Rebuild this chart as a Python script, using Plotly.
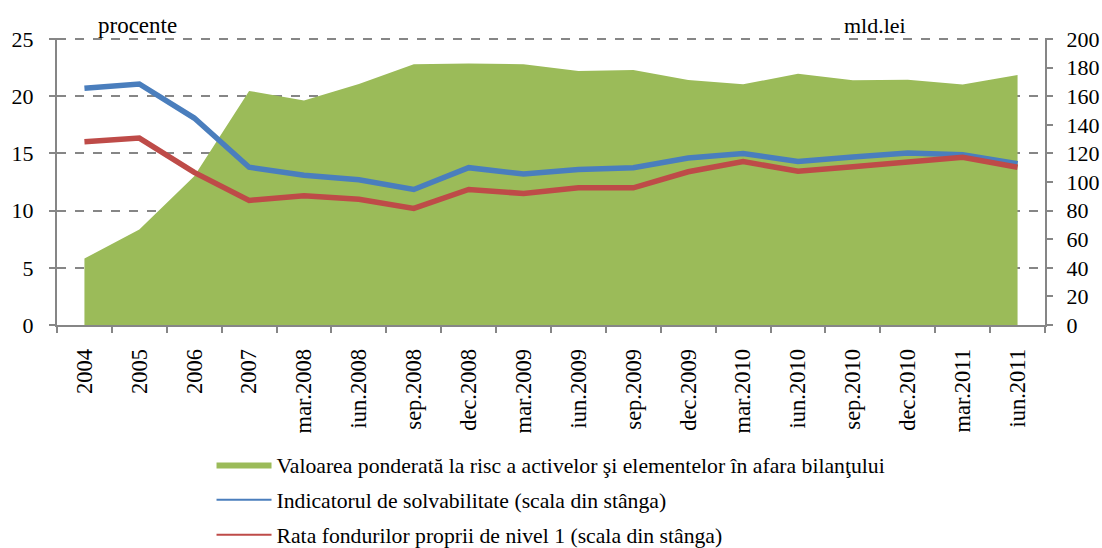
import plotly.graph_objects as go

categories = ["2004", "2005", "2006", "2007", "mar.2008", "iun.2008", "sep.2008", "dec.2008",
              "mar.2009", "iun.2009", "sep.2009", "dec.2009", "mar.2010", "iun.2010", "sep.2010",
              "dec.2010", "mar.2011", "iun.2011"]

risk_weighted_assets = [46.5, 66.8, 104, 163.8, 157, 168.6, 182.5, 183, 182.5, 177.7, 178.4,
                        171.4, 168.4, 175.8, 171.2, 171.6, 168.2, 174.9]
solvency_ratio = [20.7, 21.08, 18.1, 13.8, 13.1, 12.7, 11.85, 13.76, 13.2, 13.6, 13.76,
                  14.6, 15.0, 14.3, 14.7, 15.04, 14.9, 14.1]
tier1_ratio = [16.03, 16.35, 13.35, 10.9, 11.3, 11.0, 10.2, 11.85, 11.5, 12.0, 12.0,
               13.4, 14.3, 13.45, 13.85, 14.3, 14.66, 13.8]

names = ["Valoarea ponderată la risc a activelor şi elementelor în afara bilanţului",
         "Indicatorul de solvabilitate (scala din stânga)",
         "Rata fondurilor proprii de nivel 1 (scala din stânga)"]

left_range = [0, 25]
right_range = [0, 200]

GREEN = "#9BBB59"
BLUE = "#4A7EBD"
RED = "#BE4B48"
GREY = "#868686"
FONT = "Liberation Serif"
PAD = 1.004  # tiny headroom so the top gridline is drawn

fig = go.Figure()
# area on the primary axis (gridlines live here, below the area)
fig.add_trace(go.Scatter(x=categories, y=risk_weighted_assets, yaxis="y", name=names[0],
                         mode="lines", line=dict(width=0, color=GREEN), fill="tozeroy",
                         fillcolor=GREEN, legendgroup="a"))
# lines on the overlaying left axis so they are drawn above the area
fig.add_trace(go.Scatter(x=categories, y=solvency_ratio, yaxis="y2", name=names[1],
                         mode="lines", line=dict(width=5.5, color=BLUE), showlegend=False))
fig.add_trace(go.Scatter(x=categories, y=tier1_ratio, yaxis="y2", name=names[2],
                         mode="lines", line=dict(width=5.5, color=RED), showlegend=False))
# legend entries with thin lines, as in the reference
fig.add_trace(go.Scatter(x=[None], y=[None], yaxis="y2", name=names[1], mode="lines",
                         line=dict(width=2, color=BLUE), legendgroup="b"))
fig.add_trace(go.Scatter(x=[None], y=[None], yaxis="y2", name=names[2], mode="lines",
                         line=dict(width=2, color=RED), legendgroup="c"))
# right-hand labelled axis
fig.add_trace(go.Scatter(x=[None], y=[None], yaxis="y3", showlegend=False, hoverinfo="skip"))

fig.update_layout(
    width=1102, height=548,
    margin=dict(l=57, r=57, t=38, b=223, autoexpand=False),
    paper_bgcolor="white", plot_bgcolor="white",
    font=dict(family=FONT, size=22, color="black"),
    showlegend=True,
    legend=dict(x=0.1564, y=-0.414, xanchor="left", yanchor="top", orientation="v",
                font=dict(family=FONT, size=21.7, color="black"), tracegroupgap=4,
                itemwidth=55, bgcolor="rgba(0,0,0,0)"),
    xaxis=dict(type="category", range=[-0.5, 17.5], tickson="boundaries", ticks="outside",
               ticklen=6, tickcolor=GREY, tickwidth=2, showline=True, linecolor=GREY,
               linewidth=2, showgrid=False, tickangle=-90, tickfont=dict(size=22.5),
               zeroline=False, ticklabelstandoff=13),
    yaxis=dict(range=[right_range[0], right_range[1] * PAD], dtick=40, side="right",
               showticklabels=False, ticks="", showline=False, showgrid=True,
               gridcolor=GREY, griddash="dash", gridwidth=1.5, zeroline=False),
    yaxis2=dict(range=[left_range[0], left_range[1] * PAD], dtick=5, overlaying="y",
                side="left", ticks="outside", ticklen=6, tickcolor=GREY, tickwidth=2,
                showline=True, linecolor=GREY, linewidth=2, showgrid=False, zeroline=False,
                tickfont=dict(size=22), ticklabelstandoff=11),
    yaxis3=dict(range=[right_range[0], right_range[1] * PAD], dtick=20, overlaying="y",
                side="right", ticks="outside", ticklen=6, tickcolor=GREY, tickwidth=2,
                showline=True, linecolor=GREY, linewidth=2, showgrid=False, zeroline=False,
                tickfont=dict(size=22), ticklabelstandoff=9),
    annotations=[
        dict(text="procente", xref="paper", yref="paper", x=0.039, y=1.042, xanchor="left",
             yanchor="middle", showarrow=False, font=dict(family=FONT, size=23)),
        dict(text="mld.lei", xref="paper", yref="paper", x=0.7945, y=1.042, xanchor="left",
             yanchor="middle", showarrow=False, font=dict(family=FONT, size=22)),
    ],
)

fig.write_html("out.html", config={"displayModeBar": False},
               post_script="document.body.style.margin='0';")
